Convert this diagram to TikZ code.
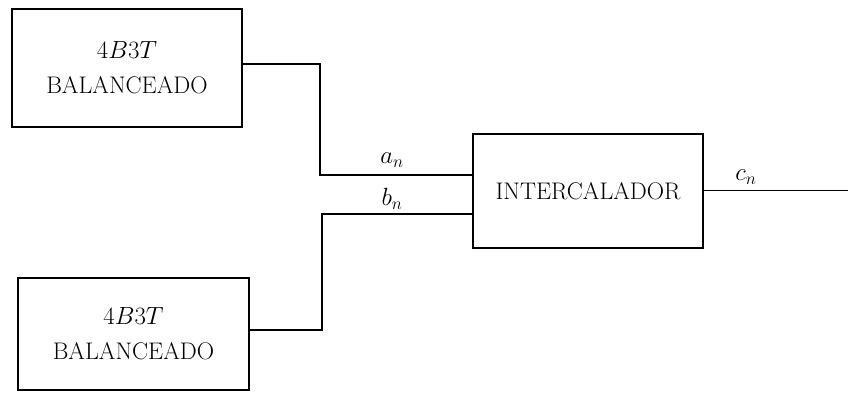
\documentclass[tikz,border=0pt]{standalone}
\begin{document}
\begin{tikzpicture}[x=1pt,y=-1pt,
  blk/.style={draw,line width=1.6pt,inner sep=0pt,align=center,font=\fontsize{24}{35}\selectfont},
  wire/.style={line width=1.8pt},
  lbl/.style={font=\fontsize{23}{26}\selectfont,inner sep=0pt}]
\useasboundingbox (0,0) rectangle (848,394);
\node[blk,minimum width=230pt,minimum height=118pt] (b1) at (127,68) {$4B3T$\\BALANCEADO};
\node[blk,minimum width=231pt,minimum height=112pt] (b2) at (133.5,334) {$4B3T$\\BALANCEADO};
\node[blk,minimum width=230pt,minimum height=114pt] (b3) at (588,191) {INTERCALADOR};
\coordinate (out) at (848,190.5);
\draw[wire] ([yshift=4pt]b1.east) -| (320,175) -- ([yshift=16pt]b3.west);
\draw[wire] ([yshift=4pt]b2.east) -| (322,214) -- ([yshift=-23pt]b3.west);
\draw[wire] ([yshift=0.5pt]b3.east) -- (out);
\node[lbl] (la) at (392,160) {$a_n$};
\node[lbl] (lb) at (392,199) {$b_n$};
\node[lbl] (lc) at (746,177) {$c_n$};
\end{tikzpicture}
\end{document}
